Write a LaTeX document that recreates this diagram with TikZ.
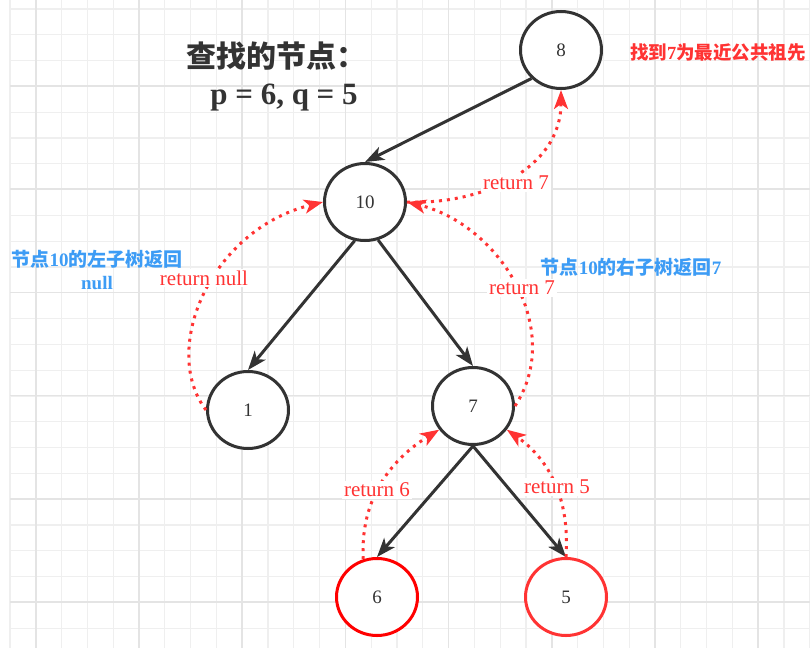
\documentclass[tikz,border=0pt]{standalone}
\usepackage{fontspec}
\setmainfont{Liberation Serif}
\newfontfamily\cjk{Noto Sans CJK SC}
\usetikzlibrary{arrows.meta,shapes.geometric}
\definecolor{ink}{HTML}{333333}
\definecolor{rd}{HTML}{FF3333}
\definecolor{rdd}{HTML}{FF0000}
\definecolor{bl}{HTML}{3D9CF5}
\definecolor{gminor}{HTML}{EFEFEF}
\definecolor{gmajor}{HTML}{E4E4E4}
\tikzset{
  tn/.style={ellipse, draw=ink, line width=3pt, minimum width=81pt, minimum height=77pt,
    inner sep=0pt, fill=white, text=ink, font=\fontsize{19}{19}\selectfont},
  edge/.style={draw=ink, line width=3pt, -{Stealth[length=19pt,width=14pt,inset=5pt]}},
  ret/.style={draw=rd, line width=3pt, dash pattern=on 3pt off 5pt,
    -{Stealth[length=19pt,width=14pt,inset=5pt,fill=rd]}},
  lbl/.style={fill=white, text=rd, inner sep=2pt, font=\fontsize{21}{21}\selectfont},
  note/.style={text=bl, font=\fontsize{19}{23}\selectfont\bfseries, inner sep=0pt},
}
\begin{document}
\begin{tikzpicture}[x=1pt,y=-1pt]
\useasboundingbox (0,0) rectangle (810,648);
\clip (0,0) rectangle (810,648);
\fill[white] (0,0) rectangle (810,648);
% grid
\foreach \i in {0,...,31} \draw[gminor, line width=1.2pt] ({10+25.8*\i},0) -- ({10+25.8*\i},648);
\foreach \j in {0,...,25} \draw[gminor, line width=1.2pt] (10,{9+25.8*\j}) -- (810,{9+25.8*\j});
\foreach \i in {0,...,7} \draw[gmajor, line width=1.5pt] ({35.8+103.2*\i},0) -- ({35.8+103.2*\i},648);
\foreach \j in {1,...,7} \draw[gmajor, line width=1.5pt] (10,{-17.2+103.2*\j}) -- (810,{-17.2+103.2*\j});

% titles and notes
\node[text=ink, font=\fontsize{30}{30}\selectfont\cjk\bfseries, inner sep=0pt] (title) at (276,56) {查找的节点：};
\node[text=ink, font=\fontsize{31}{31}\selectfont\bfseries, inner sep=0pt] (pq) at (284,98) {p = 6, q = 5};
\node[text=rd, anchor=west, font=\fontsize{18.5}{18.5}\selectfont\bfseries, inner sep=0pt] (found) at (630,52) {{\cjk 找到}7{\cjk 为最近公共祖先}};
\node[note, align=center] (leftnote) at (97,270) {{\cjk 节点}10{\cjk 的左子树返回}\\null};
\node[note] (rightnote) at (631,267) {{\cjk 节点}10{\cjk 的右子树返回}7};

% tree nodes
\node[tn] (n8) at (561,50) {8};
\node[tn] (n10) at (365,202) {10};
\node[tn] (n1) at (248,410) {1};
\node[tn] (n7) at (473,406) {7};
\node[tn, draw=rdd] (n6) at (377,597) {6};
\node[tn, draw=rd] (n5) at (566,597) {5};

% tree edges
\draw[edge] (n8.224) -- (n10.north);
\draw[edge] (n10.255) -- (n1.north);
\draw[edge] (n10.289) -- (n7.north);
\draw[edge] (n7.south) -- (n6.north);
\draw[edge] (n7.south) -- (n5.north);

% return arrows
\draw[ret] (n10.east) .. controls (480,205) and (561,170) .. (n8.south);
\draw[ret] (n7.east) .. controls (565,330) and (500,225) .. (n10.east);
\draw[ret] (n1.west) .. controls (160,350) and (210,230) .. (n10.west);
\draw[ret] (n6.110) .. controls (360,500) and (390,460) .. (n7.215);
\draw[ret] (n5.north) .. controls (570,500) and (550,460) .. (n7.-35);

% return labels
\node[lbl] (r87) at (516,183) {return 7};
\node[lbl] (r10) at (204,278) {return null};
\node[lbl] (r7) at (522,288) {return 7};
\node[lbl] (r6) at (377,490) {return 6};
\node[lbl] (r5) at (557,487) {return 5};
\end{tikzpicture}
\end{document}
